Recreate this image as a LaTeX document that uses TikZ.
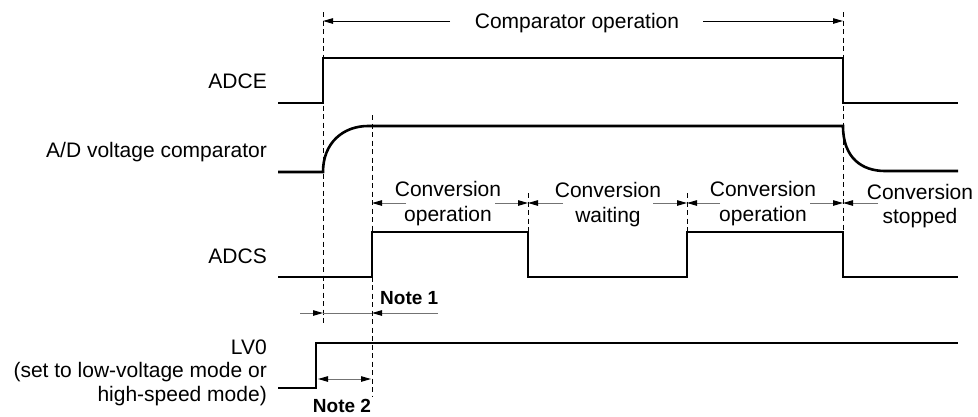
\documentclass[tikz,border=0pt]{standalone}
\usepackage{fontspec}
\setmainfont{Liberation Sans}
\usetikzlibrary{arrows.meta}
\begin{document}
\begin{tikzpicture}[x=1pt,y=-1pt,
  sig/.style={line width=2.6pt, line join=miter},
  guide/.style={line width=0.9pt, dash pattern=on 5pt off 3.5pt},
  dimline/.style={line width=1pt, black!55},
  dimarr/.style={dimline, -{Triangle[length=10pt,width=5.5pt,color=black]}},
  toparr/.style={line width=1pt, black, -{Triangle[length=10pt,width=5.5pt]}},
  lbl/.style={font=\fontsize{21}{25}\selectfont, inner sep=0pt},
  note/.style={font=\fontsize{19}{22}\selectfont\bfseries, inner sep=0pt}]
\useasboundingbox (0,0) rectangle (978,416);

% guide (dashed) lines
\draw[guide] (323,12) -- (323,323);
\draw[guide] (372,115) -- (372,396);
\draw[guide] (528,193) -- (528,232);
\draw[guide] (687,193) -- (687,232);
\draw[guide] (843,12) -- (843,232);

% signal labels
\node[lbl, anchor=base east] (lADCE) at (267,88) {ADCE};
\node[lbl, anchor=base east] (lCMP) at (267,157) {A/D voltage comparator};
\node[lbl, anchor=base east] (lADCS) at (267,263) {ADCS};
\node[lbl, anchor=base east] (lLV0) at (267,354) {LV0};
\node[lbl, anchor=base east] (lLV1) at (267,377) {(set to low-voltage mode or};
\node[lbl, anchor=base east] (lLV2) at (267,401) {high-speed mode)};

% signals
\draw[sig] (278,103) -- (323,103) -- (323,58) -- (843,58) -- (843,103) -- (958,103);
\draw[sig] (278,172) -- (323,172) .. controls (323,142) and (344,126) .. (368,126) -- (843,126)
  .. controls (843,158) and (862,171) .. (885,171) -- (958,171);
\draw[sig] (278,277) -- (372,277) -- (372,232) -- (528,232) -- (528,277) -- (687,277)
  -- (687,232) -- (843,232) -- (843,277) -- (958,277);
\draw[sig] (278,388) -- (316,388) -- (316,343) -- (958,343);

% comparator operation
\node[lbl, anchor=base] (tCMP) at (577,28) {Comparator operation};
\coordinate (cL) at (450,21);
\coordinate (cR) at (703,21);
\coordinate (cL0) at (323,21);
\coordinate (cR0) at (843,21);
\draw[toparr] (cL) -- (cL0);
\draw[toparr] (cR) -- (cR0);

% conversion phases
\node[lbl, anchor=base] (t1a) at (448,196) {Conversion};
\node[lbl, anchor=base] (t1b) at (448,221) {operation};
\node[lbl, anchor=base] (t2a) at (608,197) {Conversion};
\node[lbl, anchor=base] (t2b) at (608,222) {waiting};
\node[lbl, anchor=base] (t3a) at (763,196) {Conversion};
\node[lbl, anchor=base] (t3b) at (763,221) {operation};
\node[lbl, anchor=base] (t4a) at (920,199) {Conversion};
\node[lbl, anchor=base] (t4b) at (920,223) {stopped};

\coordinate (a372) at (372,203);
\coordinate (a528) at (528,203);
\coordinate (a687) at (687,203);
\coordinate (a843) at (843,203);
\draw[dimarr] (406,203) -- (a372);
\draw[dimarr] (495,203) -- (a528);
\draw[dimarr] (563,203) -- (a528);
\draw[dimarr] (653,203) -- (a687);
\draw[dimarr] (720,203) -- (a687);
\draw[dimarr] (810,203) -- (a843);
\draw[dimarr] (878,203) -- (a843);

% Note 1
\node[note, anchor=base west] (n1) at (380,304) {Note 1};
\coordinate (n1a) at (323,313);
\coordinate (n1b) at (372,313);
\draw[dimarr] (300,313) -- (n1a);
\draw[dimline] (n1a) -- (n1b);
\draw[dimarr] (438,313) -- (n1b);

% Note 2
\node[note, anchor=base] (n2) at (342,412) {Note 2};
\coordinate (n2a) at (318,379);
\coordinate (n2b) at (371,379);
\draw[dimline, {Triangle[length=10pt,width=5.5pt,color=black]}-{Triangle[length=10pt,width=5.5pt,color=black]}] (n2a) -- (n2b);
\end{tikzpicture}
\end{document}
